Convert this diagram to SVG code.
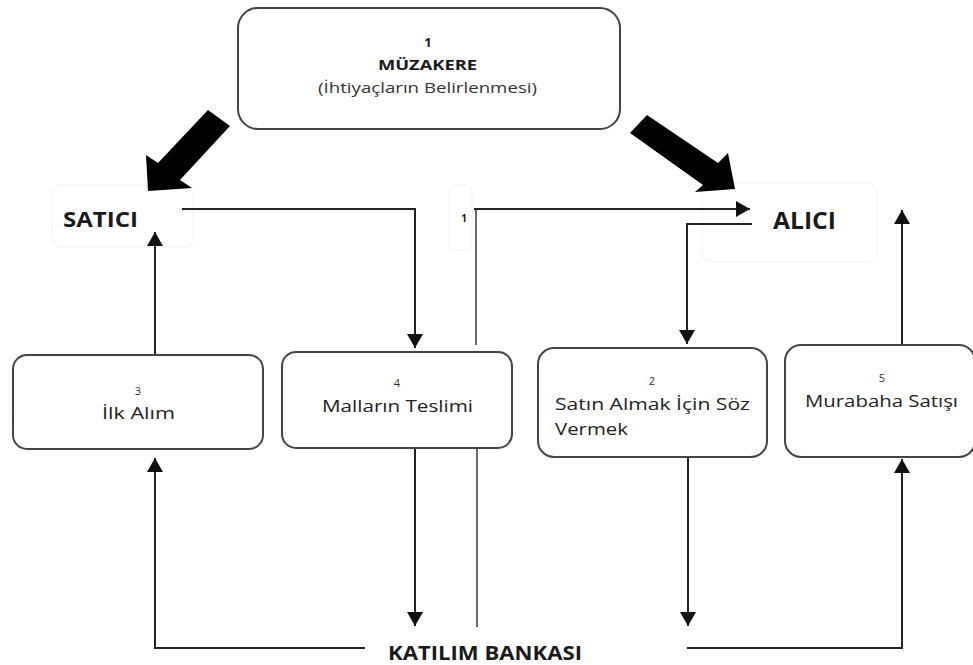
<svg xmlns="http://www.w3.org/2000/svg" width="973" height="665" viewBox="0 0 973 665">
<style>
  .box { fill: #ffffff; stroke: #444444; stroke-width: 2; }
  .faint { fill: none; stroke: #f3f3f3; stroke-width: 1; }
  .line { fill: none; stroke: #222222; stroke-width: 2; }
  .gray { fill: none; stroke: #6a6a6a; stroke-width: 2; }
  .big { fill: #000000; }
  text { font-family: "Open Sans", "Liberation Sans", sans-serif; }
  .num { font-size: 11px; fill: #333333; text-anchor: middle; }
  .lbl { font-size: 16px; fill: #222222; }
  .head { font-weight: bold; fill: #1a1a1a; }
</style>
<defs>
  <marker id="arr" markerUnits="userSpaceOnUse" viewBox="0 0 14 16" refX="14" refY="8" markerWidth="14" markerHeight="16" orient="auto">
    <path d="M0,0 L14,8 L0,16 z" fill="#111111"/>
  </marker>
</defs>

<g id="faint-boxes">
  <rect class="faint" x="52" y="185" width="141" height="62" rx="8"/>
  <rect class="faint" x="449" y="185" width="23" height="65" rx="6"/>
  <rect class="faint" x="702" y="183" width="175" height="79" rx="10"/>
</g>

<g id="connectors">
  <path class="big" d="M208,110 L230,126 L180,180 L192,188 L148,191 L146,155 L158,163 Z"/>
  <path class="big" d="M647,115 L718,163 L728,153 L735,189 L695,192 L703,185 L630,133 Z"/>
  <path class="line" d="M182,209 H415 V348" marker-end="url(#arr)"/>
  <path class="gray" d="M476,345 V209"/>
  <path class="line" d="M474,209 H750" marker-end="url(#arr)" stroke="#333333"/>
  <path class="line" d="M752,224 H687 V344" marker-end="url(#arr)"/>
  <path class="line" d="M902,345 V210" marker-end="url(#arr)"/>
  <path class="line" d="M155,355 V232" marker-end="url(#arr)"/>
  <path class="line" d="M415,448 V626" marker-end="url(#arr)"/>
  <path class="gray" d="M477,448 V627"/>
  <path class="line" d="M365,648 H155 V458" marker-end="url(#arr)"/>
  <path class="line" d="M688,457 V626" marker-end="url(#arr)"/>
  <path class="line" d="M687,648 H902 V459" marker-end="url(#arr)"/>
</g>

<g id="node-muzakere">
  <rect class="box" x="238" y="8" width="382" height="121" rx="20"/>
  <text x="428" y="47" text-anchor="middle" font-size="13" class="head">1</text>
  <text x="427.5" y="70" text-anchor="middle" font-size="15" class="head" textLength="99" lengthAdjust="spacingAndGlyphs">MÜZAKERE</text>
  <text x="427.5" y="93" text-anchor="middle" font-size="15" fill="#333333" textLength="219" lengthAdjust="spacingAndGlyphs">(İhtiyaçların Belirlenmesi)</text>
</g>

<g id="node-satici">
  <text x="63" y="227" font-size="21" class="head" textLength="75" lengthAdjust="spacingAndGlyphs">SATICI</text>
</g>

<g id="node-alici">
  <text x="773" y="229" font-size="23" class="head" textLength="63" lengthAdjust="spacingAndGlyphs">ALICI</text>
</g>

<g id="label-1">
  <text x="464" y="222" font-size="10" class="head" text-anchor="middle" fill="#444444">1</text>
</g>

<g id="node-3">
  <rect class="box" x="13" y="355" width="250" height="94" rx="14"/>
  <text class="num" x="138" y="395">3</text>
  <text class="lbl" x="138.5" y="419" text-anchor="middle" textLength="73" lengthAdjust="spacingAndGlyphs">İlk Alım</text>
</g>

<g id="node-4">
  <rect class="box" x="282" y="352" width="230" height="96" rx="14"/>
  <text class="num" x="397" y="387">4</text>
  <text class="lbl" x="397.5" y="412" text-anchor="middle" textLength="151" lengthAdjust="spacingAndGlyphs">Malların Teslimi</text>
</g>

<g id="node-2">
  <rect class="box" x="538" y="348" width="229" height="109" rx="16"/>
  <text class="num" x="652" y="385">2</text>
  <text class="lbl" x="555" y="410" textLength="195" lengthAdjust="spacingAndGlyphs">Satın Almak İçin Söz</text>
  <text class="lbl" x="555" y="435" textLength="73" lengthAdjust="spacingAndGlyphs">Vermek</text>
</g>

<g id="node-5">
  <rect class="box" x="785" y="345" width="190" height="112" rx="16"/>
  <text class="num" x="882" y="382">5</text>
  <text class="lbl" x="881.5" y="407" text-anchor="middle" textLength="153" lengthAdjust="spacingAndGlyphs">Murabaha Satışı</text>
</g>

<g id="node-katilim">
  <text x="485" y="660" font-size="19" class="head" text-anchor="middle" textLength="194" lengthAdjust="spacingAndGlyphs">KATILIM BANKASI</text>
</g>
</svg>
